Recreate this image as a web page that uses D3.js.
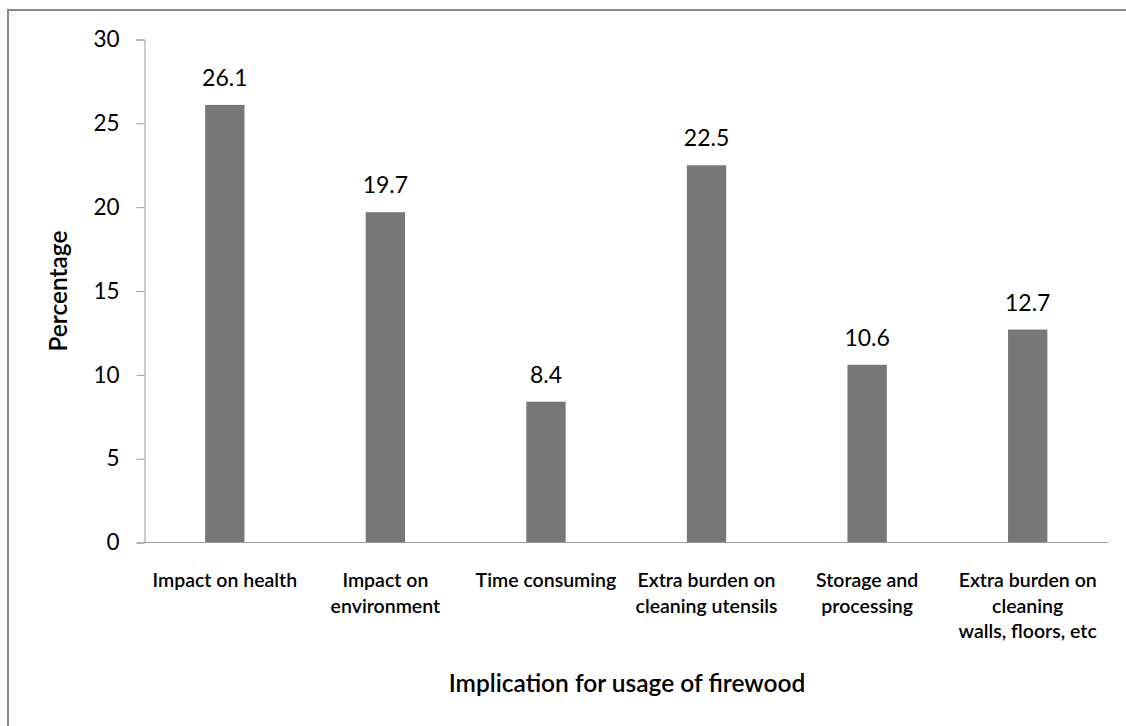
<!DOCTYPE html>
<html>
<head>
<meta charset="utf-8">
<script src="https://cdn.jsdelivr.net/npm/d3@7"></script>
<style>
  html, body { margin: 0; padding: 0; background: #fff; }
  svg { display: block; }
  text { font-family: "Lato", "Open Sans", sans-serif; fill: #000; }
</style>
</head>
<body>
<div id="chart"></div>
<script>
const categories = [
  ["Impact on health"],
  ["Impact on", "environment"],
  ["Time consuming"],
  ["Extra burden on", "cleaning utensils"],
  ["Storage and", "processing"],
  ["Extra burden on", "cleaning", "walls, floors, etc"]
];
const values = [26.1, 19.7, 8.4, 22.5, 10.6, 12.7];
const yTicks = [0, 5, 10, 15, 20, 25, 30];
const xTitle = "Implication for usage of firewood";
const yTitle = "Percentage";

(function () {
const W = 1126, H = 726;
const svg = d3.select("#chart").append("svg").attr("width", W).attr("height", H);

// outer frame
svg.append("rect").attr("x", 8).attr("y", 10).attr("width", W + 20).attr("height", H + 20)
  .attr("fill", "none").attr("stroke", "#888").attr("stroke-width", 2);

const pL = 144.5, pR = 1108, pT = 39.5, pB = 542.5;
const idx = categories.map((d, i) => i);
const x = d3.scaleBand().domain(idx).range([pL, pR]).padding(0);
const y = d3.scaleLinear().domain([0, 30]).range([pB, pT]);
const barW = x.bandwidth() * 0.245;

// y axis
const yAxis = svg.append("g").attr("transform", `translate(${pL},0)`)
  .call(d3.axisLeft(y).tickValues(yTicks).tickSize(8).tickPadding(17).tickFormat(d3.format("d")));
yAxis.select(".domain").attr("stroke", "#9a9a9a");
yAxis.selectAll(".tick line").attr("stroke", "#9a9a9a");
yAxis.selectAll(".tick text").attr("font-size", 22.5).attr("fill", "#1a1a1a")
  .style("font-family", "Lato, 'Open Sans', sans-serif");

// bars
svg.selectAll("rect.bar").data(values).enter().append("rect").attr("class", "bar")
  .attr("x", (d, i) => x(i) + x.bandwidth() / 2 - barW / 2)
  .attr("y", d => y(d))
  .attr("width", barW)
  .attr("height", d => y(0) - y(d))
  .attr("fill", "#777777");

// x axis line
svg.append("line").attr("x1", pL).attr("x2", pR).attr("y1", pB).attr("y2", pB)
  .attr("stroke", "#9a9a9a").attr("stroke-width", 1);

// value labels
svg.selectAll("text.val").data(values).enter().append("text").attr("class", "val")
  .attr("x", (d, i) => x(i) + x.bandwidth() / 2)
  .attr("y", d => y(d) - 19)
  .attr("text-anchor", "middle").attr("font-size", 23).attr("fill", "#1a1a1a")
  .text(d => d3.format(".1f")(d));

// category labels
const cat = svg.selectAll("text.cat").data(categories).enter().append("text").attr("class", "cat")
  .attr("text-anchor", "middle").attr("font-size", 19.5).attr("font-weight", 600);
cat.each(function(lines, i) {
  const t = d3.select(this);
  lines.forEach((ln, j) => {
    t.append("tspan").attr("x", x(i) + x.bandwidth() / 2).attr("y", 587 + j * 25.5).text(ln);
  });
});

// axis titles
svg.append("text").attr("x", 627).attr("y", 692).attr("text-anchor", "middle")
  .attr("font-size", 24.5).attr("font-weight", 600).text(xTitle);
svg.append("text").attr("transform", "translate(67,291) rotate(-90)").attr("text-anchor", "middle")
  .attr("font-size", 24.5).attr("font-weight", 600).text(yTitle);
})();
</script>
</body>
</html>
